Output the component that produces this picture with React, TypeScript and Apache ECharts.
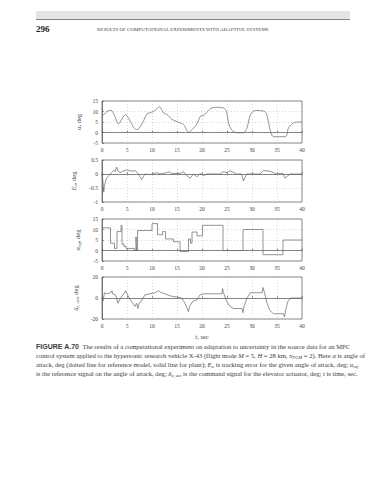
import React, { useEffect, useRef } from "react";
import * as echarts from "echarts";

// ---- data ----
const alphaT = [0, 0.5, 1, 1.8, 2.5, 3.3, 4, 4.7, 5.5, 6.3, 6.9, 7.5, 8.3, 9, 10, 10.6, 11.5, 12.3, 13, 14, 15.3, 16.3, 17.4, 18, 19, 19.7, 20.3, 20.9, 21.7, 22.7, 24.3, 24.9, 25.3, 26, 27, 28.3, 29, 29.7, 30.7, 32.3, 32.9, 33.7, 34.3, 36.7, 37.3, 38.3, 39.3, 40];
const alphaV = [7.8, 8.8, 10, 10.6, 8, 4.1, 6.5, 8.6, 6, 2.5, 1.4, 2.2, 5.5, 8.9, 9.7, 10.5, 12.2, 9.4, 8.6, 6.2, 4.9, 3.8, 0, 1.4, 4.1, 7.8, 8.1, 9.4, 11.4, 12, 11.7, 10, 4.6, 1, -0.1, -0.1, 2.2, 8.6, 10.5, 10.2, 9, 0.6, -2, -2, 2.2, 4.6, 5, 5];

const errT = [0, 0.2, 0.35, 0.5, 0.9, 1.4, 1.9, 2.3, 2.7, 2.9, 3.2, 3.6, 4.2, 4.9, 5.9, 6.6, 7.1, 7.6, 7.9, 8.6, 9.5, 10.2, 10.9, 11.6, 12.9, 13.3, 14, 15.6, 16.3, 16.9, 17.6, 18.3, 19, 19.6, 20.3, 21, 23.6, 24.3, 25, 25.6, 26.9, 27.9, 28.3, 28.9, 31.6, 32.3, 33.6, 34.9, 36.2, 36.6, 37.6, 40];
const errV = [0, -0.3, -0.65, -0.4, -0.15, -0.05, 0.05, 0.12, 0.1, 0.25, 0.1, 0.05, 0.1, 0.15, 0.1, 0.12, 0.05, -0.1, -0.2, 0, -0.02, 0, 0.05, 0, 0.05, 0.08, 0.02, 0.02, 0.08, -0.05, -0.15, 0, -0.1, 0.02, -0.05, 0, 0, 0.08, 0.05, 0.12, 0, 0, -0.25, 0, 0, 0.12, 0.1, 0, 0.02, -0.15, 0, 0];

const refT = [0, 1.7, 2.5, 3.0, 3.8, 4.0, 4.4, 4.8, 6.5, 6.8, 6.9, 7.1, 10, 11.1, 12.1, 12.7, 14.3, 15.6, 17.3, 17.7, 18.0, 19.0, 20.1, 24.2, 28.2, 32.2, 36.2, 40];
const refV = [10.8, 3.5, 1, 9, 12, 3, 2, 1, 0, 6.5, 0, 9.5, 12.8, 7.5, 9, 5.5, 4.2, -0.5, 5.5, 3.5, 8.8, 7, 12, 0, 10, -2, 5, 5];

const actT = [0, 0.2, 0.5, 1, 1.7, 2, 2.1, 2.7, 3.2, 3.7, 4.5, 4.7, 5.1, 5.7, 6.6, 6.9, 7.2, 7.4, 7.7, 8.6, 9.6, 10.6, 11.3, 11.9, 12.6, 13.6, 14.9, 15.9, 16.6, 17.3, 17.5, 18.2, 18.9, 19.6, 20.3, 24.0, 24.1, 24.3, 24.9, 25.6, 26.3, 28.0, 28.2, 28.4, 29.0, 29.7, 32.0, 32.2, 32.5, 33.0, 33.6, 34.3, 36.3, 36.5, 36.8, 37.2, 37.8, 40];
const actV = [0, -3, 5, 4, 5, 7, 4, 3, -5, 0, 5, 7, 3, -2, -8, -5, -10, -5, -4, 3, 4, 5, 7, 5, 4, 2, 1, 0, -5, -13, -8, -3, -2, 3, 4, 4, 9, 5, -3, -8, -10, -10, -14, -8, 0, 5, 5, 10, 5, -5, -12, -15, -15, -18, -10, -3, 0, 0];

const yRanges = [
  { min: -5, max: 15, interval: 5 },
  { min: -1, max: 0.5, interval: 0.5 },
  { min: -5, max: 15, interval: 5 },
  { min: -20, max: 20, interval: 20 },
];
const yNames = [
  "{i|α}{n|, deg}",
  "{i|E}{s|α}{n|, deg}",
  "{i|α}{s|ref}{n|, deg}",
  "{i|δ}{s|e, act}{n|, deg}",
];
const captionLines = [
  "{b|FIGURE A.70}  {r|The results of a computational experiment on adaptation to uncertainty in the source data for an MPC}",
  "{r|control system applied to the hypersonic research vehicle X-43 (flight mode }{i|M}{r| = 5, }{i|H}{r| = 28 km, }{i|n}{s|PCM}{r| = 2). Here }{i|α}{r| is angle of}",
  "{r|attack, deg (dotted line for reference model, solid line for plant); }{i|E}{s|α}{r| is tracking error for the given angle of attack, deg; }{i|α}{s|ref}",
  "{r|is the reference signal on the angle of attack, deg; }{i|δ}{s|e, act}{r| is the command signal for the elevator actuator, deg; }{i|t}{r| is time, sec.}",
];

const zip = (t: number[], v: number[]) => t.map((x, i) => [x, v[i]]);

const SERIF = "'Liberation Serif', 'DejaVu Serif', serif";
const tops = [101, 160, 219, 277];

export default function App() {
  const ref = useRef<HTMLDivElement>(null);
  useEffect(() => {
    if (!ref.current) return;
    const chart = echarts.init(ref.current, undefined, { renderer: "svg" });
    const rich = {
      i: { fontStyle: "italic", fontSize: 6.5, fontFamily: SERIF, color: "#444" },
      n: { fontSize: 6.5, fontFamily: SERIF, color: "#444" },
      s: { fontStyle: "italic", fontSize: 4.5, fontFamily: SERIF, color: "#444", padding: [4, 0, 0, 0] },
    };
    const capRich = {
      b: { fontWeight: "bold", fontSize: 7, fontFamily: "'Liberation Sans', Arial, sans-serif", color: "#222" },
      r: { fontWeight: "normal", fontSize: 6.6, fontFamily: SERIF, color: "#3a3a3a" },
      i: { fontStyle: "italic", fontWeight: "normal", fontSize: 6.6, fontFamily: SERIF, color: "#3a3a3a" },
      s: { fontStyle: "italic", fontWeight: "normal", fontSize: 4.6, fontFamily: SERIF, color: "#3a3a3a", padding: [4, 0, 0, 0] },
    };
    const datasets = [zip(alphaT, alphaV), zip(errT, errV), zip(refT, refV), zip(actT, actV)];
    const axisCommon = {
      axisLine: { show: true, lineStyle: { color: "#555", width: 0.7 } },
      axisTick: { show: true, inside: true, length: 2, lineStyle: { color: "#555", width: 0.6 } },
      axisLabel: { fontSize: 5.5, color: "#444", margin: 4, fontFamily: SERIF },
      splitLine: { show: true, lineStyle: { type: [1, 2], color: "#b0b0b0", width: 0.5 } },
    };
    const option: any = {
      animation: false,
      backgroundColor: "#fff",
      grid: tops.map((top) => ({
        left: 102, width: 200, top, height: 42, show: true,
        borderColor: "#555", borderWidth: 0.7, backgroundColor: "transparent",
      })),
      xAxis: tops.map((_, i) => ({
        type: "value", gridIndex: i, min: 0, max: 40, interval: 5,
        name: i === 3 ? "{i|t}{n|, sec}" : "",
        nameLocation: "middle", nameGap: 14,
        nameTextStyle: { rich },
        ...axisCommon,
      })),
      yAxis: tops.map((_, i) => ({
        type: "value", gridIndex: i, ...yRanges[i],
        name: yNames[i], nameLocation: "middle", nameRotate: 90, nameGap: 10,
        nameTextStyle: { rich },
        ...axisCommon,
      })),
      series: datasets.map((d, i) => ({
        type: "line", xAxisIndex: i, yAxisIndex: i, data: d,
        showSymbol: false, silent: true,
        smooth: i === 0 ? 0.3 : false,
        step: i === 2 ? "end" : undefined,
        lineStyle: { color: "#666", width: 0.7 },
      })),
      graphic: [
        { type: "rect", shape: { x: 36, y: 11, width: 314, height: 8 }, style: { fill: "#e4e4e4" } },
        { type: "line", shape: { x1: 36, y1: 19.5, x2: 350, y2: 19.5 }, style: { stroke: "#666", lineWidth: 0.8 } },
        { type: "text", x: 36, y: 29, style: { text: "296", font: `bold 9px ${SERIF}`, fill: "#222", verticalAlign: "middle" } },
        { type: "text", x: 97, y: 29, style: { text: "RESULTS OF COMPUTATIONAL EXPERIMENTS WITH ADAPTIVE SYSTEMS", font: `5px ${SERIF}`, fill: "#444", verticalAlign: "middle" } },
        ...captionLines.map((t, k) => ({
          type: "text", x: 36, y: 346 + k * 9.2,
          style: { text: t, font: `6.6px ${SERIF}`, fill: "#3a3a3a", verticalAlign: "middle", rich: capRich },
        })),
      ],
    };
    chart.setOption(option);
    return () => chart.dispose();
  }, []);
  return <div ref={ref} style={{ position: "absolute", left: 0, top: 0, width: 388, height: 480 }} />;
}
